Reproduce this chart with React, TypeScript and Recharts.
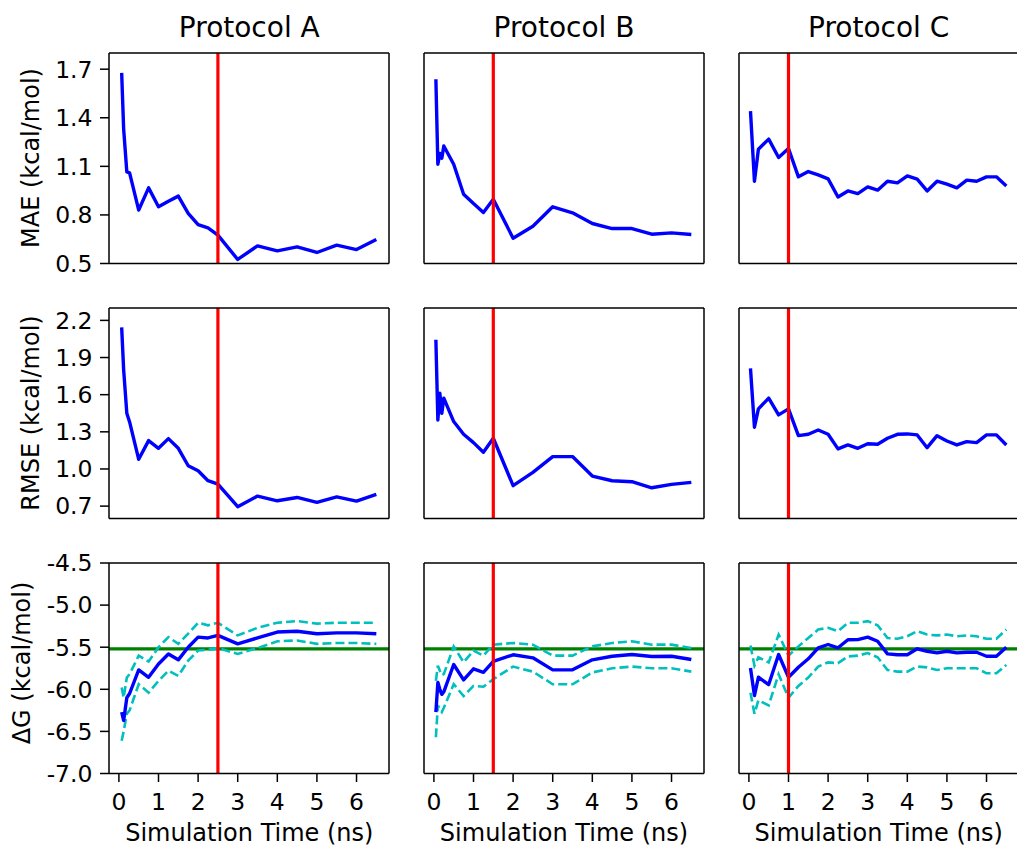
import React from 'react';
import { LineChart, Line, XAxis, YAxis, ReferenceLine } from 'recharts';

const protocols = ['Protocol A', 'Protocol B', 'Protocol C'];
const cutoffs = [2.5, 1.5, 1.0];
const expDG = -5.52;

const xTicks = [0, 1, 2, 3, 4, 5, 6];
const maeTicks = [0.5, 0.8, 1.1, 1.4, 1.7];
const rmseTicks = [0.7, 1.0, 1.3, 1.6, 1.9, 2.2];
const dgTicks = [-7.0, -6.5, -6.0, -5.5, -5.0, -4.5];

// Protocol A
const timeA = [0.07, 0.12, 0.2, 0.27, 0.5, 0.75, 1.0, 1.25, 1.5, 1.75, 2.0, 2.25, 2.5, 3.0, 3.5, 4.0, 4.5, 5.0, 5.5, 6.0, 6.5];
const maeA = [1.677, 1.33, 1.066, 1.06, 0.83, 0.967, 0.85, 0.885, 0.916, 0.81, 0.74, 0.72, 0.675, 0.525, 0.609, 0.578, 0.603, 0.568, 0.613, 0.586, 0.648];
const rmseA = [2.144, 1.8, 1.45, 1.38, 1.078, 1.229, 1.167, 1.245, 1.167, 1.026, 0.986, 0.905, 0.878, 0.695, 0.781, 0.743, 0.77, 0.73, 0.775, 0.74, 0.795];
const dgA = [-6.27, -6.37, -6.1, -6.05, -5.77, -5.857, -5.7, -5.58, -5.65, -5.5, -5.38, -5.39, -5.36, -5.46, -5.39, -5.32, -5.31, -5.34, -5.33, -5.33, -5.34];
const dgUpA = [-5.98, -6.1, -5.86, -5.82, -5.6, -5.67, -5.5, -5.38, -5.46, -5.34, -5.21, -5.24, -5.21, -5.36, -5.27, -5.21, -5.19, -5.22, -5.21, -5.21, -5.21];
const dgLoA = [-6.61, -6.5, -6.29, -6.25, -5.94, -6.04, -5.9, -5.78, -5.84, -5.66, -5.54, -5.53, -5.51, -5.58, -5.51, -5.43, -5.42, -5.46, -5.45, -5.45, -5.46];

// Protocol B
const timeB = [0.05, 0.1, 0.15, 0.2, 0.25, 0.5, 0.75, 1.0, 1.25, 1.5, 2.0, 2.5, 3.0, 3.5, 4.0, 4.5, 5.0, 5.5, 6.0, 6.5];
const maeB = [1.638, 1.113, 1.18, 1.15, 1.226, 1.113, 0.928, 0.87, 0.815, 0.897, 0.656, 0.73, 0.85, 0.813, 0.747, 0.716, 0.716, 0.681, 0.689, 0.679];
const rmseB = [2.044, 1.396, 1.612, 1.45, 1.572, 1.383, 1.28, 1.213, 1.135, 1.248, 0.865, 0.973, 1.1, 1.1, 0.943, 0.905, 0.897, 0.848, 0.876, 0.892];
const dgB = [-6.27, -5.92, -6.0, -6.06, -6.03, -5.706, -5.888, -5.757, -5.798, -5.667, -5.59, -5.626, -5.769, -5.769, -5.65, -5.607, -5.587, -5.611, -5.607, -5.646];
const dgUpB = [-5.9, -5.72, -5.78, -5.83, -5.82, -5.49, -5.68, -5.54, -5.6, -5.47, -5.45, -5.47, -5.6, -5.6, -5.49, -5.45, -5.43, -5.47, -5.47, -5.51];
const dgLoB = [-6.57, -6.19, -6.24, -6.27, -6.22, -5.94, -6.08, -5.96, -5.97, -5.88, -5.73, -5.79, -5.94, -5.94, -5.8, -5.75, -5.73, -5.75, -5.75, -5.79];

// Protocol C
const timeC = [0.04, 0.14, 0.24, 0.5, 0.75, 1.0, 1.25, 1.5, 1.75, 2.0, 2.25, 2.5, 2.75, 3.0, 3.25, 3.5, 3.75, 4.0, 4.25, 4.5, 4.75, 5.0, 5.25, 5.5, 5.75, 6.0, 6.25, 6.5];
const maeC = [1.441, 1.008, 1.206, 1.268, 1.155, 1.21, 1.035, 1.068, 1.047, 1.023, 0.911, 0.948, 0.932, 0.973, 0.953, 1.008, 0.998, 1.041, 1.021, 0.948, 1.008, 0.99, 0.967, 1.015, 1.008, 1.035, 1.035, 0.979];
const rmseC = [1.812, 1.337, 1.485, 1.572, 1.437, 1.485, 1.269, 1.28, 1.315, 1.28, 1.162, 1.194, 1.167, 1.204, 1.2, 1.248, 1.28, 1.283, 1.275, 1.172, 1.269, 1.226, 1.194, 1.221, 1.213, 1.275, 1.275, 1.194];
const dgC = [-5.746, -6.075, -5.857, -5.944, -5.587, -5.857, -5.738, -5.638, -5.507, -5.468, -5.507, -5.412, -5.41, -5.381, -5.429, -5.579, -5.59, -5.59, -5.519, -5.548, -5.567, -5.548, -5.567, -5.56, -5.56, -5.607, -5.607, -5.5];
const dgUpC = [-5.48, -5.72, -5.62, -5.68, -5.35, -5.6, -5.49, -5.39, -5.29, -5.27, -5.31, -5.21, -5.21, -5.19, -5.24, -5.39, -5.4, -5.37, -5.31, -5.35, -5.36, -5.35, -5.37, -5.36, -5.37, -5.4, -5.4, -5.29];
const dgLoC = [-6.04, -6.29, -6.13, -6.19, -5.82, -6.1, -5.96, -5.86, -5.73, -5.68, -5.69, -5.61, -5.6, -5.57, -5.62, -5.77, -5.79, -5.79, -5.73, -5.74, -5.77, -5.75, -5.75, -5.75, -5.75, -5.81, -5.81, -5.71];

const FONT = '"DejaVu Sans", sans-serif';
const COL_LEFT = [109.3, 424, 738.7];
const ROW_TOP = [52.5, 307.7, 562.7];
const PLOT_W = 280;
const PLOT_H = 210.5;
const X_DOMAIN: [number, number] = [-0.25, 6.82];

const rows = [
  { label: 'MAE (kcal/mol)', ticks: maeTicks, domain: [0.5, 1.8], labelX: 30.7, labelY: 158 },
  { label: 'RMSE (kcal/mol)', ticks: rmseTicks, domain: [0.6, 2.3], labelX: 30.7, labelY: 412.5 },
  { label: 'ΔG (kcal/mol)', ticks: dgTicks, domain: [-7, -4.5], labelX: 22, labelY: 662.5 },
];

const series = [
  { time: timeA, mae: maeA, rmse: rmseA, dg: dgA, up: dgUpA, lo: dgLoA },
  { time: timeB, mae: maeB, rmse: rmseB, dg: dgB, up: dgUpB, lo: dgLoB },
  { time: timeC, mae: maeC, rmse: rmseC, dg: dgC, up: dgUpC, lo: dgLoC },
];

const axisStyle = { stroke: '#000', strokeWidth: 1.5 };

function Panel({ row, col }: { row: number; col: number }) {
  const s = series[col];
  const data = s.time.map((t, i) => ({
    t,
    mae: s.mae[i],
    rmse: s.rmse[i],
    dg: s.dg[i],
    up: s.up[i],
    lo: s.lo[i],
  }));
  const key = row === 0 ? 'mae' : row === 1 ? 'rmse' : 'dg';
  const showY = col === 0;
  const showX = row === 2;
  const YW = showY ? 100 : 10;
  const XH = showX ? 50 : 20;
  const MT = 20;
  const MR = 5;
  const chartW = YW + PLOT_W + 1 + MR;
  const chartH = MT + 1 + PLOT_H + XH;
  const r = rows[row];
  const tickFont = { fill: '#000', fontSize: 23.5, fontFamily: FONT };

  return (
    <div style={{ position: 'absolute', left: COL_LEFT[col] - YW, top: ROW_TOP[row] - MT - 1 }}>
      <LineChart width={chartW} height={chartH} data={data} margin={{ top: MT, right: MR, left: 0, bottom: 0 }}>
        <XAxis
          dataKey="t"
          type="number"
          domain={X_DOMAIN}
          allowDataOverflow
          ticks={xTicks}
          height={XH}
          axisLine={axisStyle}
          tickLine={showX ? axisStyle : false}
          tickSize={8.5}
          tickMargin={11.5}
          tick={showX ? tickFont : false}
          interval={0}
        />
        <XAxis xAxisId="top" orientation="top" type="number" domain={X_DOMAIN} allowDataOverflow height={1} axisLine={axisStyle} tick={false} tickLine={false} />
        <YAxis
          type="number"
          domain={r.domain}
          allowDataOverflow
          ticks={r.ticks}
          width={YW}
          axisLine={axisStyle}
          tickLine={showY ? axisStyle : false}
          tickSize={9}
          tickMargin={7.5}
          tick={showY ? tickFont : false}
          tickFormatter={(v: number) => v.toFixed(1)}
          interval={0}
        />
        <YAxis yAxisId="right" orientation="right" type="number" domain={r.domain} allowDataOverflow width={1} axisLine={axisStyle} tick={false} tickLine={false} />
        {row === 2 && <ReferenceLine y={expDG} stroke="#008000" strokeWidth={3.2} />}
        {row === 2 && (
          <Line dataKey="up" stroke="#00bfbf" strokeWidth={2.6} strokeDasharray="9 4" dot={false} isAnimationActive={false} />
        )}
        {row === 2 && (
          <Line dataKey="lo" stroke="#00bfbf" strokeWidth={2.6} strokeDasharray="9 4" dot={false} isAnimationActive={false} />
        )}
        <Line dataKey={key} stroke="#0000ff" strokeWidth={3.4} strokeLinejoin="round" dot={false} isAnimationActive={false} />
        <ReferenceLine x={cutoffs[col]} stroke="#ff0000" strokeWidth={3.2} />
      </LineChart>
    </div>
  );
}

export default function App() {
  return (
    <div
      style={{
        position: 'absolute',
        left: 0,
        top: 0,
        width: 1017,
        height: 848,
        overflow: 'hidden',
        background: '#fff',
        fontFamily: FONT,
        color: '#000',
      }}
    >
      {protocols.map((p, c) => (
        <div
          key={p}
          style={{
            position: 'absolute',
            left: COL_LEFT[c] + PLOT_W / 2 - 150,
            width: 300,
            top: 37.3 - 0.846 * 28,
            fontSize: 28,
            lineHeight: '28px',
            textAlign: 'center',
            whiteSpace: 'nowrap',
          }}
        >
          {p}
        </div>
      ))}
      {rows.map((r) => (
        <div
          key={r.label}
          style={{
            position: 'absolute',
            left: r.labelX,
            top: r.labelY,
            fontSize: 24,
            lineHeight: '24px',
            whiteSpace: 'nowrap',
            transform: 'translate(-50%, -50%) rotate(-90deg)',
          }}
        >
          {r.label}
        </div>
      ))}
      {[0, 1, 2].map((c) => (
        <div
          key={c}
          style={{
            position: 'absolute',
            left: COL_LEFT[c] + PLOT_W / 2 - 150,
            width: 300,
            top: 841.7 - 0.846 * 24,
            fontSize: 24,
            lineHeight: '24px',
            textAlign: 'center',
            whiteSpace: 'nowrap',
          }}
        >
          Simulation Time (ns)
        </div>
      ))}
      {[0, 1, 2].map((row) =>
        [0, 1, 2].map((col) => <Panel key={`${row}-${col}`} row={row} col={col} />)
      )}
    </div>
  );
}
